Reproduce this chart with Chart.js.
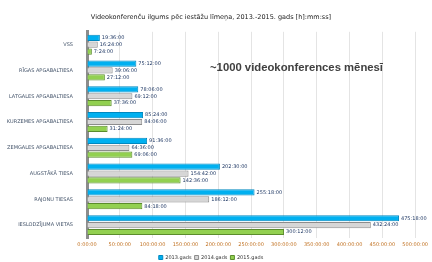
<!DOCTYPE html>
<html>
<head>
<meta charset="utf-8">
<script src="https://cdn.jsdelivr.net/npm/chart.js@4"></script>
<style>
  html, body { margin: 0; padding: 0; background: #fff; }
  #wrap { width: 432px; height: 262px; }
</style>
</head>
<body>
<div id="wrap"><canvas id="myChart" width="432" height="262"></canvas></div>
<script>
const categories = [
  "VSS",
  "RĪGAS APGABALTIESA",
  "LATGALES APGABALTIESA",
  "KURZEMES APGABALTIESA",
  "ZEMGALES APGABALTIESA",
  "AUGSTĀKĀ TIESA",
  "RAJONU TIESAS",
  "IESLODZĪJUMA VIETAS",
];

// hours
const hours2013 = [19.6, 75.2, 78.1, 85.4, 91.6, 202.5, 255.3, 475.3];
const hours2014 = [16.4, 39.1, 69.2, 84.1, 64.6, 154.7, 186.2, 432.4];
const hours2015 = [7.4, 27.2, 37.6, 31.4, 69.1, 142.6, 84.3, 300.2];

const seriesNames = ["2013.gads", "2014.gads", "2015.gads"];

const fmt = function (h) {
  const total = Math.round(h * 3600);
  const hh = Math.floor(total / 3600);
  const mm = Math.floor((total % 3600) / 60);
  const ss = total % 60;
  return hh + ":" + String(mm).padStart(2, "0") + ":" + String(ss).padStart(2, "0");
};

const valueLabels = {
  id: "valueLabels",
  afterDatasetsDraw(chart) {
    const c = chart.ctx;
    c.save();
    c.font = "5px 'DejaVu Sans'";
    c.fillStyle = "#1f3864";
    c.textBaseline = "middle";
    chart.data.datasets.forEach((ds, i) => {
      chart.getDatasetMeta(i).data.forEach((bar, j) => {
        c.fillText(fmt(ds.data[j]), bar.x + 2, bar.y);
      });
    });
    c.font = "bold 11.3px 'Liberation Sans'";
    c.fillStyle = "#404040";
    c.fillText("~1000 videokonferences mēnesī", 210, 68);
    c.restore();
  },
};

const ctx = document.getElementById("myChart").getContext("2d");
const myChart = new Chart(ctx, {
  type: "bar",
  data: {
    labels: categories,
    datasets: [
      {
        label: seriesNames[0],
        data: hours2013,
        backgroundColor: "#00b0f0",
        borderColor: "#0088c0",
        borderWidth: 1,
      },
      {
        label: seriesNames[1],
        data: hours2014,
        backgroundColor: "#d6d6d6",
        borderColor: "#8c8c8c",
        borderWidth: 1,
      },
      {
        label: seriesNames[2],
        data: hours2015,
        backgroundColor: "#92d050",
        borderColor: "#5b8c2c",
        borderWidth: 1,
      },
    ],
  },
  options: {
    indexAxis: "y",
    responsive: false,
    animation: false,
    layout: { padding: { left: 2, right: 12, top: 0, bottom: -8 } },
    datasets: {
      bar: { categoryPercentage: 0.8, barPercentage: 0.9 },
    },
    scales: {
      x: {
        min: 0,
        max: 500,
        ticks: {
          stepSize: 50,
          font: { size: 5, family: "DejaVu Sans" },
          color: "#c07020",
          padding: 4,
          callback: (v) => fmt(v),
        },
        grid: { color: "#e4e4e4", drawTicks: false },
        border: { display: false },
      },
      y: {
        ticks: {
          font: { size: 5, family: "DejaVu Sans" },
          color: "#44546a",
          padding: 6,
        },
        grid: { display: false },
        border: { color: "#8c8c8c", width: 3 },
        afterFit: (s) => { s.width = 85; },
      },
    },
    plugins: {
      title: {
        display: true,
        text: "Videokonferenču ilgums pēc iestāžu līmeņa, 2013.-2015. gads [h]:mm:ss]",
        font: { size: 6.5, family: "DejaVu Sans", weight: "normal" },
        color: "#222",
        padding: { top: 13, bottom: 11 },
      },
      legend: {
        position: "bottom",
        labels: {
          boxWidth: 4,
          boxHeight: 4,
          padding: 3,
          font: { size: 5, family: "DejaVu Sans" },
          color: "#333",
        },
      },
      tooltip: { enabled: false },
    },
  },
  plugins: [valueLabels],
});
</script>
</body>
</html>
